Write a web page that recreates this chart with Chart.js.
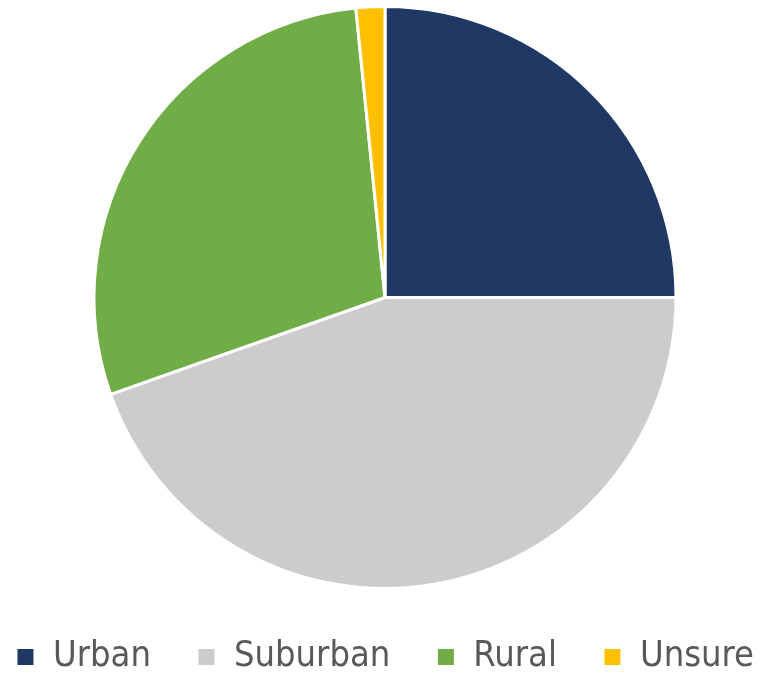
<!DOCTYPE html>
<html lang="en">
  <head>
    <meta charset="UTF-8" />
    <title>Urban / Suburban / Rural pie</title>
  </head>
  <style>
    * {
      margin: 0;
      padding: 0;
    }
    body {
      background: #ffffff;
    }
    .chartBox {
      width: 770px;
      height: 673px;
    }
  </style>
  <body>
    <div class="chartBox">
      <canvas id="myChart"></canvas>
    </div>

    <script src="https://cdn.jsdelivr.net/npm/chart.js"></script>

    <script>
      // data block
      const categories = ["Urban", "Suburban", "Rural", "Unsure"];
      const shares = [25.0, 44.6, 28.8, 1.6];
      const sliceColors = ["#1F3864", "#CCCCCC", "#70AD47", "#FFC000"];

      const data = {
        labels: categories,
        datasets: [
          {
            label: "Share",
            data: shares,
            backgroundColor: sliceColors,
            borderColor: "#ffffff",
            borderWidth: 3,
            radius: 291
          }
        ]
      };

      // config block
      const config = {
        type: "pie",
        data,
        options: {
          responsive: true,
          maintainAspectRatio: false,
          animation: false,
          // negative side padding widens the legend row so it stays on one line
          layout: {
            padding: { top: 2, bottom: -12, left: -60, right: -60 }
          },
          plugins: {
            tooltip: { enabled: false },
            legend: {
              position: "bottom",
              labels: {
                color: "#595959",
                boxWidth: 19,
                boxHeight: 19,
                padding: 46,
                font: {
                  family: "'DejaVu Sans Condensed', 'DejaVu Sans', sans-serif",
                  size: 36
                }
              }
            }
          }
        }
      };

      // init render block
      const ctx = document.getElementById("myChart");
      const myChart = new Chart(ctx, config);
    </script>
  </body>
</html>
